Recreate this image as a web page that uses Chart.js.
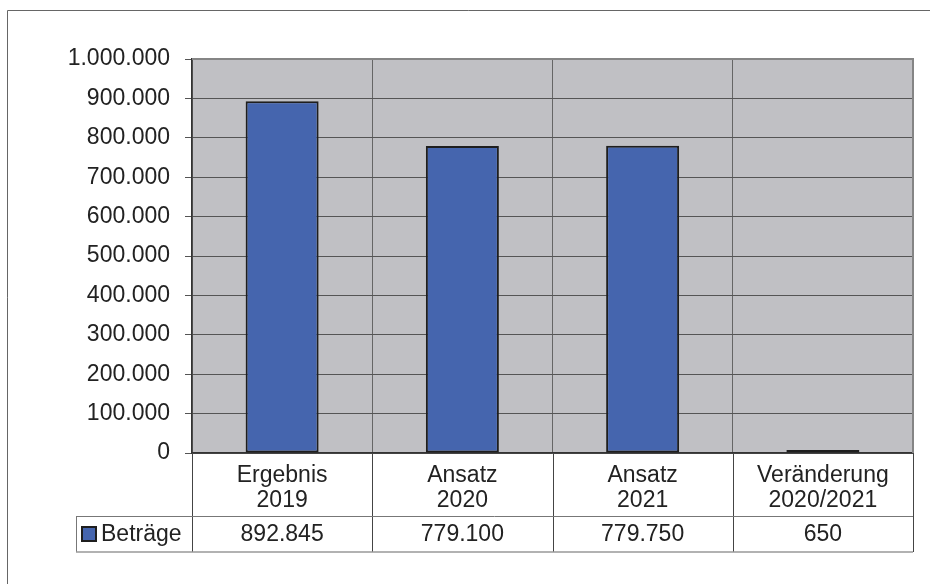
<!DOCTYPE html>
<html>
<head>
<meta charset="utf-8">
<script src="https://cdn.jsdelivr.net/npm/chart.js@4"></script>
<style>
  html, body { margin: 0; padding: 0; background: #fff; }
  #wrap { width: 930px; height: 584px; position: relative; }
</style>
</head>
<body>
<div id="wrap"><canvas id="chart"></canvas></div>
<script>
// data
const categories = [["Ergebnis", "2019"], ["Ansatz", "2020"], ["Ansatz", "2021"], ["Veränderung", "2020/2021"]];
const seriesName = "Beträge";
const seriesValues = [892845, 779100, 779750, 650];
const yTicks = [0, 100000, 200000, 300000, 400000, 500000, 600000, 700000, 800000, 900000, 1000000];

const textColor = "#222";
const barFill = "#4565ae";
const barBorder = "#1e1e1e";
const fontFamily = "'Liberation Sans', Arial, sans-serif";

// German thousands separator
function fmt(v) {
  return String(v).replace(/\B(?=(\d{3})+(?!\d))/g, ".");
}

const tablePlugin = {
  id: "dataTable",
  beforeDraw(chart) {
    const { ctx, chartArea: a } = chart;
    ctx.save();
    ctx.fillStyle = "#fff";
    ctx.fillRect(0, 0, chart.width, chart.height);
    // plot background
    ctx.fillStyle = "#c0c0c4";
    ctx.fillRect(a.left, a.top, a.right - a.left, a.bottom - a.top);
    // outer frame (only top + left visible)
    ctx.strokeStyle = "#666";
    ctx.lineWidth = 1;
    ctx.beginPath();
    ctx.moveTo(7.5, chart.height);
    ctx.lineTo(7.5, 10.5);
    ctx.lineTo(chart.width, 10.5);
    ctx.stroke();
    ctx.restore();
  },
  beforeDatasetsDraw(chart) {
    const { ctx, chartArea: a } = chart;
    ctx.save();
    // grey plot frame top + right
    ctx.strokeStyle = "#858585";
    ctx.lineWidth = 2;
    ctx.beginPath();
    ctx.moveTo(a.left, a.top);
    ctx.lineTo(a.right, a.top);
    ctx.lineTo(a.right, a.bottom);
    ctx.stroke();
    ctx.restore();
  },
  afterDraw(chart) {
    const { ctx, chartArea: a } = chart;
    const n = categories.length;
    const colW = (a.right - a.left) / n;
    const rowTop = a.bottom + 63;
    const rowBottom = rowTop + 36;
    const legendLeft = a.left - 116;

    ctx.save();
    // vertical lines through label area + table
    ctx.strokeStyle = "#444";
    ctx.lineWidth = 1;
    for (let i = 0; i <= n; i++) {
      const x = Math.round(a.left + colW * i) + 0.5;
      ctx.beginPath();
      ctx.moveTo(x, a.bottom);
      ctx.lineTo(x, rowBottom);
      ctx.stroke();
    }
    // table row lines
    ctx.strokeStyle = "#777";
    ctx.beginPath();
    ctx.moveTo(legendLeft, rowTop + 0.5);
    ctx.lineTo(a.right, rowTop + 0.5);
    ctx.moveTo(legendLeft + 0.5, rowTop);
    ctx.lineTo(legendLeft + 0.5, rowBottom);
    ctx.stroke();
    ctx.strokeStyle = "#999";
    ctx.lineWidth = 1.5;
    ctx.beginPath();
    ctx.moveTo(legendLeft, rowBottom);
    ctx.lineTo(a.right, rowBottom);
    ctx.stroke();

    // legend key
    const midY = (rowTop + rowBottom) / 2;
    ctx.fillStyle = barFill;
    ctx.strokeStyle = barBorder;
    ctx.lineWidth = 2;
    ctx.fillRect(legendLeft + 6, midY - 7, 14, 14);
    ctx.strokeRect(legendLeft + 6, midY - 7, 14, 14);

    ctx.fillStyle = textColor;
    ctx.font = "23px " + fontFamily;
    ctx.textBaseline = "middle";
    ctx.textAlign = "left";
    ctx.fillText(seriesName, legendLeft + 25, midY + 1);

    ctx.textAlign = "center";
    seriesValues.forEach((v, i) => {
      ctx.fillText(fmt(v), chart.scales.x.getPixelForValue(i), midY + 1);
    });
    ctx.restore();
  }
};

const ctx = document.getElementById("chart").getContext("2d");
const chart = new Chart(ctx, {
  type: "bar",
  data: {
    labels: categories,
    datasets: [
      {
        label: seriesName,
        data: seriesValues,
        backgroundColor: barFill,
        borderColor: barBorder,
        borderWidth: 2,
        borderSkipped: false,
        minBarLength: 3,
        categoryPercentage: 1,
        barPercentage: 0.405,
      },
    ],
  },
  options: {
    responsive: true,
    maintainAspectRatio: false,
    animation: false,
    events: [],
    layout: {
      padding: { top: 59, right: 17, bottom: 0, left: 0 },
    },
    plugins: {
      legend: { display: false },
      tooltip: { enabled: false },
    },
    scales: {
      x: {
        afterFit: (scale) => {
          scale.height = 131;
        },
        grid: {
          color: "#666",
          lineWidth: 1,
          drawTicks: false,
          offset: true,
        },
        border: { color: "#333", width: 1.5 },
        ticks: {
          color: textColor,
          padding: 10,
          maxRotation: 0,
          autoSkip: false,
          font: { family: fontFamily, size: 23, lineHeight: "25px" },
        },
      },
      y: {
        min: yTicks[0],
        max: yTicks[yTicks.length - 1],
        afterBuildTicks: (scale) => {
          scale.ticks = yTicks.map((v) => ({ value: v }));
        },
        afterFit: (scale) => {
          scale.width = 192;
        },
        grid: {
          color: "#555",
          lineWidth: 1,
          tickLength: 7,
        },
        border: { color: "#333", width: 1.5 },
        ticks: {
          color: textColor,
          padding: 15,
          font: { family: fontFamily, size: 23 },
          callback: (v) => fmt(v),
        },
      },
    },
  },
  plugins: [tablePlugin],
});
</script>
</body>
</html>
